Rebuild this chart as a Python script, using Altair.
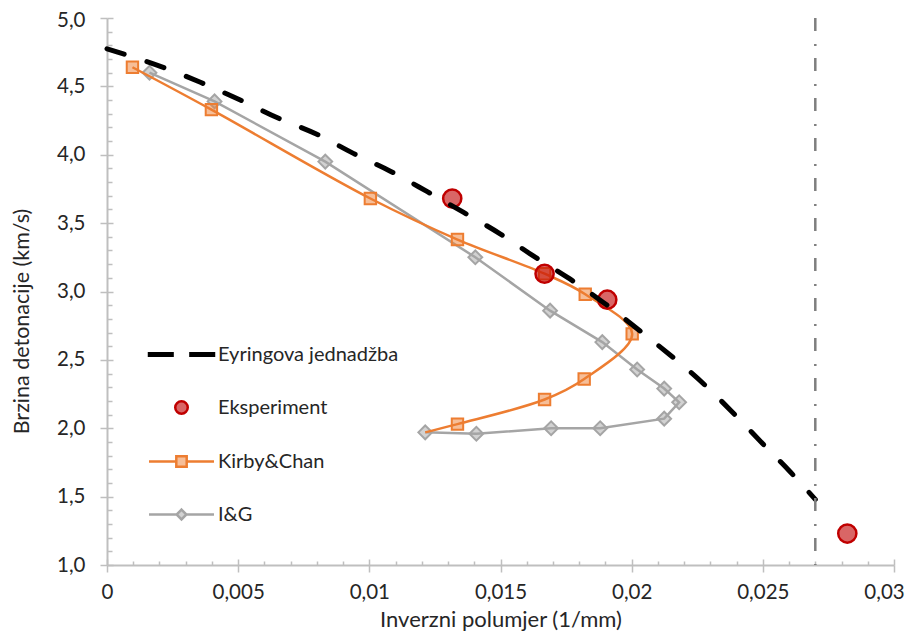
import altair as alt
import pandas as pd

# ---------------- data ----------------
SERIES = ["Eyringova jednadžba", "Eksperiment", "Kirby&Chan", "I&G"]

X_TICKS = [0, 0.005, 0.01, 0.015, 0.02, 0.025, 0.03]
Y_TICKS = [1.0, 1.5, 2.0, 2.5, 3.0, 3.5, 4.0, 4.5, 5.0]
X_MINOR = [round(i * 0.001, 3) for i in range(31)]
Y_MINOR = [round(1 + i * 0.1, 1) for i in range(41)]

EYR_X = [0.0, 0.0024, 0.00356, 0.00508, 0.0065, 0.0080, 0.00939, 0.0108, 0.01221,
         0.01358, 0.0150, 0.01625, 0.01766, 0.01892, 0.02033, 0.02288, 0.02388,
         0.02498, 0.02605, 0.0270]
EYR_Y = [4.775, 4.62, 4.53, 4.40, 4.27, 4.15, 4.01, 3.88, 3.73,
         3.58, 3.42, 3.26, 3.09, 2.92, 2.71, 2.30, 2.11,
         1.89, 1.68, 1.48]

EXP_X = [0.01316, 0.01668, 0.01907, 0.02822]
EXP_Y = [3.68, 3.13, 2.94, 1.23]

KC_X = [0.00097, 0.00398, 0.01004, 0.01336, 0.01668, 0.01823, 0.02002,
        0.01819, 0.01668, 0.01336, 0.01213]
KC_Y = [4.64, 4.33, 3.68, 3.38, 3.13, 2.98, 2.69, 2.36, 2.21, 2.03, 1.97]
KC_MARK = [True] * 10 + [False]

IG_X = [0.00162, 0.0041, 0.00832, 0.01404, 0.01689, 0.01888, 0.02021, 0.02124,
        0.02181, 0.02124, 0.0188, 0.01693, 0.01408, 0.01213]
IG_Y = [4.60, 4.39, 3.95, 3.25, 2.86, 2.63, 2.43, 2.29, 2.19, 2.07, 2.00, 2.00,
        1.96, 1.97]

LIMIT_X = [0.027]

# ---------------- style ----------------
FONT = "Lato"
TXT = "#262626"
AX = "#BFBFBF"
ORANGE = "#ED7D31"
GRAY = "#A5A5A5"
RED = "#C00000"
W, H = 787, 547

eyr = pd.DataFrame({"x": EYR_X, "y": EYR_Y})
exp = pd.DataFrame({"x": EXP_X, "y": EXP_Y})
kc = pd.DataFrame({"x": KC_X, "y": KC_Y, "m": KC_MARK, "i": range(len(KC_X))})
ig = pd.DataFrame({"x": IG_X, "y": IG_Y, "i": range(len(IG_X))})
lim = pd.DataFrame({"x": LIMIT_X})
leg = pd.DataFrame({"s": SERIES, "x": [EYR_X[0], EXP_X[0], KC_X[0], IG_X[0]],
                    "y": [EYR_Y[0], EXP_Y[0], KC_Y[0], IG_Y[0]]})

xs = alt.Scale(domain=[0, 0.03], nice=False, zero=False)
ys = alt.Scale(domain=[1, 5], nice=False, zero=False)

x_main = alt.Axis(orient="bottom", values=X_TICKS,
                  labelExpr="datum.value == 0 ? '0' : replace(format(datum.value, '~g'), '.', ',')",
                  labelOffset={"condition": {"test": "datum.value > 0.029", "value": -10}, "value": 0},
                  tickSize=7, tickColor=AX, tickWidth=1.5, domainColor=AX, domainWidth=2,
                  grid=False, labelFont=FONT, labelFontSize=20.5, labelColor=TXT,
                  labelPadding=10, labelFlush=False, labelOverlap=False,
                  title="Inverzni polumjer (1/mm)", titleFont=FONT, titleFontSize=22,
                  titleFontWeight="normal", titleColor=TXT, titlePadding=7)
y_main = alt.Axis(orient="left", values=Y_TICKS,
                  labelExpr="replace(format(datum.value, '.1f'), '.', ',')",
                  labelOffset={"condition": {"test": "datum.value > 4.9", "value": 2}, "value": 0},
                  tickSize=7, tickColor=AX, tickWidth=1.5, domainColor=AX, domainWidth=2,
                  grid=False, labelFont=FONT, labelFontSize=20.5, labelColor=TXT,
                  labelPadding=15, labelFlush=False, labelOverlap=False,
                  title="Brzina detonacije (km/s)", titleFont=FONT, titleFontSize=21.5,
                  titleFontWeight="normal", titleColor=TXT,
                  titleX=-85, titleY=303, titleBaseline="middle", titleAlign="center")

x_minor = alt.Axis(orient="top", offset=-H, values=X_MINOR, labels=False, domain=False,
                   grid=False, tickColor=AX, tickWidth=1.5, title=None,
                   tickSize={"condition": {"test": "abs(datum.value*200 - round(datum.value*200)) < 0.001", "value": 6}, "value": 4})
y_minor = alt.Axis(orient="right", offset=-W, values=Y_MINOR, labels=False, domain=False,
                   grid=False, tickColor=AX, tickWidth=1.5, title=None,
                   tickSize={"condition": {"test": "abs(datum.value*2 - round(datum.value*2)) < 0.001", "value": 6}, "value": 5})

LEG_SHAPES = [
    "M-2,-0.08H-0.55V0.08H-2Z M0.55,-0.08H2V0.08H0.55Z",
    "M0.385,0A0.385,0.385,0,1,1,-0.385,0A0.385,0.385,0,1,1,0.385,0Z",
    "M-2,0H-0.32M0.32,0H2M-0.32,-0.32H0.32V0.32H-0.32Z",
    "M-2,0H-0.3M0.3,0H2M0,-0.3L0.3,0L0,0.3L-0.3,0Z",
]
LEG_FILL = ["#000000", "#D96666", "#F6BE98", "#D2D2D2"]
LEG_STROKE = ["#000000", RED, ORANGE, GRAY]


def legend():
    return alt.Legend(orient="none", legendX=57, legendY=319, title=None,
                      labelFont=FONT, labelFontSize=20, labelColor=TXT, labelLimit=0,
                      symbolSize=1056, symbolStrokeWidth=2.5, labelOffset=19,
                      rowPadding=25, padding=0, symbolOffset=0)


gray_line = alt.Chart(ig).mark_line(color=GRAY, strokeWidth=2.5).encode(
    x=alt.X("x:Q", scale=xs, axis=x_main),
    y=alt.Y("y:Q", scale=ys, axis=y_main),
    order="i:Q")
gray_pts = alt.Chart(ig).mark_point(shape="diamond", filled=True, fill=GRAY, fillOpacity=0.5,
                                    stroke=GRAY, strokeWidth=2, size=190, opacity=1).encode(
    x=alt.X("x:Q", axis=None), y=alt.Y("y:Q", axis=None))
kc_line = alt.Chart(kc).mark_line(color=ORANGE, strokeWidth=2.5, interpolate="catmull-rom").encode(
    x=alt.X("x:Q", axis=None), y=alt.Y("y:Q", axis=None), order="i:Q")
kc_pts = alt.Chart(kc).transform_filter("datum.m").mark_point(
    shape="square", filled=True, fill=ORANGE, fillOpacity=0.5, stroke=ORANGE,
    strokeWidth=2, size=130, opacity=1).encode(
    x=alt.X("x:Q", axis=None), y=alt.Y("y:Q", axis=None))
exp_pts = alt.Chart(exp).mark_point(shape="circle", filled=True, fill=RED, fillOpacity=0.6,
                                    stroke=RED, strokeWidth=2.5, size=330, opacity=1).encode(
    x=alt.X("x:Q", axis=None), y=alt.Y("y:Q", axis=None))
eyr_line = alt.Chart(eyr).mark_line(color="black", strokeWidth=5, strokeDash=[18, 24],
                                    strokeCap="round", interpolate="monotone").encode(
    x=alt.X("x:Q", axis=None), y=alt.Y("y:Q", axis=None))
lim_rule = alt.Chart(lim).mark_rule(color="#7F7F7F", strokeWidth=2.5,
                                    strokeDash=[13, 13, 2, 12]).encode(
    x=alt.X("x:Q", axis=None))
carrier = alt.Chart(leg).transform_filter("false").mark_point(
    filled=True, opacity=1, strokeWidth=2.5).encode(
    x=alt.X("x:Q", axis=x_minor),
    y=alt.Y("y:Q", axis=y_minor),
    fill=alt.Fill("s:N", scale=alt.Scale(domain=SERIES, range=LEG_FILL), legend=legend()),
    stroke=alt.Stroke("s:N", scale=alt.Scale(domain=SERIES, range=LEG_STROKE), legend=legend()),
    shape=alt.Shape("s:N", scale=alt.Scale(domain=SERIES, range=LEG_SHAPES), legend=legend()),
)

chart = alt.layer(gray_line, gray_pts, kc_line, kc_pts, exp_pts, eyr_line, lim_rule, carrier).properties(
    width=W, height=H,
    autosize=alt.AutoSizeParams(type="none"),
    padding={"left": 99, "top": 10, "right": 12, "bottom": 66},
).configure_view(stroke=None)

chart.save("out.html", embed_options={"renderer": "svg", "actions": False})
